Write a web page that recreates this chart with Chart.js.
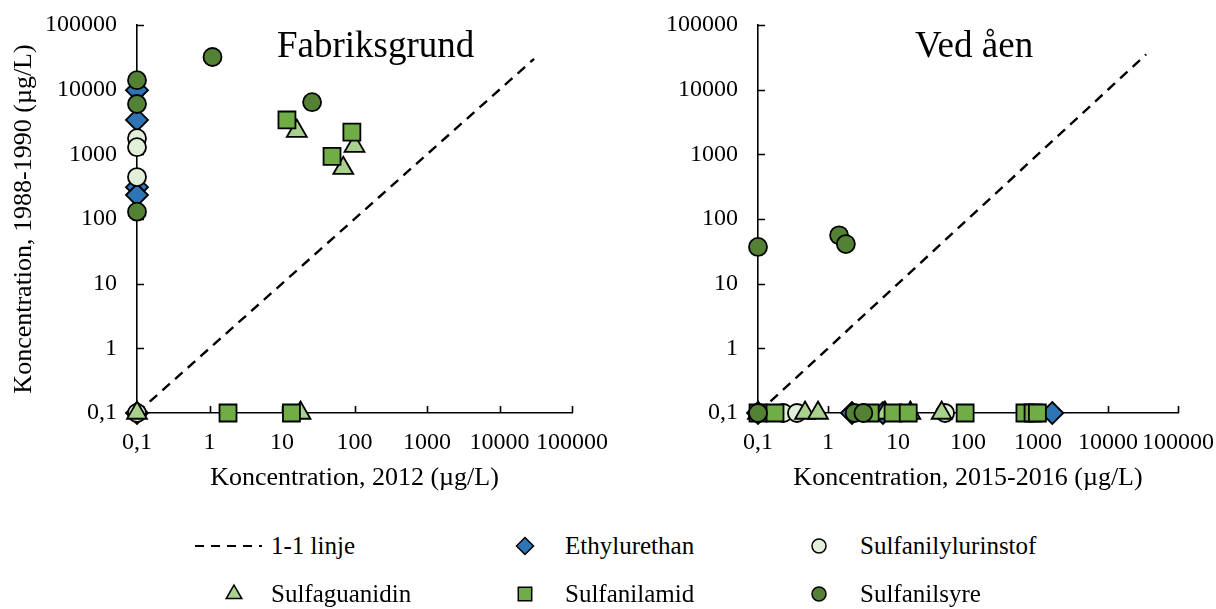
<!DOCTYPE html>
<html>
<head>
<meta charset="utf-8">
<script src="https://cdn.jsdelivr.net/npm/chart.js@4/dist/chart.umd.min.js"></script>
<style>
  html, body { margin:0; padding:0; background:#fff; }
  body { width:1216px; height:609px; position:relative; overflow:hidden; font-family:"Liberation Serif","Times New Roman",serif; color:#000; }
  .box { position:absolute; top:0; width:608px; height:500px; }
  .ttl { position:absolute; font-size:37px; line-height:1; white-space:nowrap; }
  .lg { position:absolute; font-size:25px; line-height:1; white-space:nowrap; }
  .sym { position:absolute; }
</style>
</head>
<body>
<div class="box" style="left:0"><canvas id="c1" width="608" height="500"></canvas></div>
<div class="box" style="left:608px"><canvas id="c2" width="608" height="500"></canvas></div>
<div class="ttl" style="left:277px; top:26px;">Fabriksgrund</div>
<div class="ttl" style="left:915px; top:26px;">Ved åen</div>
<div id="legend"></div>
<script>
// ---- tick values / labels ----
const tickValues = [0.1, 1, 10, 100, 1000, 10000, 100000];
const tickLabels = ['0,1', '1', '10', '100', '1000', '10000', '100000'];

// ---- series names ----
const seriesNames = ['Ethylurethan', 'Sulfanilylurinstof', 'Sulfaguanidin', 'Sulfanilamid', 'Sulfanilsyre'];
const lineName = '1-1 linje';

// ---- Fabriksgrund: [x = 2012, y = 1988-1990] ----
const fabEthylurethan = [[0.1, 9800], [0.1, 3400], [0.1, 310], [0.1, 235], [0.1, 0.1]];
const fabSulfanilylurinstof = [[0.1, 1780], [0.1, 1290], [0.1, 445], [0.1, 0.1]];
const fabSulfaguanidin = [[16, 2290], [100, 1340], [70, 610], [0.1, 0.1], [18, 0.1]];
const fabSulfanilamid = [[11.7, 3400], [92, 2200], [49, 930], [1.8, 0.1], [13.5, 0.1]];
const fabSulfanilsyre = [[0.1, 14000], [0.1, 6000], [0.1, 130], [1.1, 32000], [26, 6400]];
const fabOneToOne = [[0.1, 0.1], [30000, 30000]];

// ---- Ved åen: [x = 2015-2016, y = 1988-1990] ----
const vedEthylurethan = [[0.1, 0.1], [2.2, 0.1], [6.1, 0.1], [1600, 0.1]];
const vedSulfanilylurinstof = [[0.1, 0.1], [0.23, 0.1], [0.36, 0.1], [47, 0.1]];
const vedSulfaguanidin = [[0.1, 0.1], [0.47, 0.1], [0.72, 0.1], [6.5, 0.1], [15, 0.1], [42, 0.1]];
const vedSulfanilamid = [[0.1, 0.1], [0.175, 0.1], [4, 0.1], [8.5, 0.1], [14, 0.1], [91, 0.1], [650, 0.1], [850, 0.1], [980, 0.1]];
const vedSulfanilsyre = [[0.1, 37], [1.44, 56], [1.8, 41], [0.1, 0.1], [2.4, 0.1], [3.2, 0.1]];
const vedOneToOne = [[0.1, 0.1], [35000, 35000]];

// ---- styles ----
const seriesColors = ['#2E75B6', '#E2F0D9', '#A9D18E', '#70AD47', '#548235'];
const seriesStyles = ['rectRot', 'circle', 'triangle', 'rect', 'circle'];
const seriesRadius = [11, 9, 11.5, 12, 9];
const FONT = '"Liberation Serif", "Times New Roman", serif';

function toPts(arr) { return arr.map(p => ({ x: p[0], y: p[1] })); }

function buildDatasets(seriesData, lineData) {
  const ds = seriesData.map((arr, i) => ({
    label: seriesNames[i],
    data: toPts(arr),
    pointStyle: seriesStyles[i],
    pointRadius: seriesRadius[i],
    pointHoverRadius: seriesRadius[i],
    backgroundColor: seriesColors[i],
    borderColor: '#000',
    pointBorderWidth: 1.8,
    borderWidth: 1.8,
    showLine: false,
    clip: false,
    order: 10 - i
  }));
  ds.push({
    label: lineName,
    data: toPts(lineData),
    showLine: true,
    borderColor: '#000',
    borderWidth: 2.4,
    borderDash: [10, 7],
    pointRadius: 0,
    clip: false,
    order: 20
  });
  return ds;
}

function setTicks(scale) {
  scale.ticks = tickValues.map(v => ({ value: v }));
}

// inner tick marks drawn at the scales' own pixel positions
const innerTicks = {
  id: 'innerTicks',
  beforeDatasetsDraw(chart) {
    const ctx = chart.ctx, xs = chart.scales.x, ys = chart.scales.y, a = chart.chartArea;
    const len = 7;
    ctx.save();
    ctx.strokeStyle = '#000';
    ctx.lineWidth = 1.6;
    ctx.beginPath();
    tickValues.forEach(v => {
      const px = Math.round(xs.getPixelForValue(v)) + 0.5;
      ctx.moveTo(px, a.bottom); ctx.lineTo(px, a.bottom - len);
      const py = Math.round(ys.getPixelForValue(v)) + 0.5;
      ctx.moveTo(a.left, py); ctx.lineTo(a.left + len, py);
    });
    ctx.stroke();
    ctx.restore();
  }
};

function makeOptions(yWidth, rightPad, xTitle, yTitle) {
  return {
    responsive: false,
    animation: false,
    events: [],
    layout: { padding: { left: 0, top: 25, right: rightPad, bottom: 0 } },
    plugins: { legend: { display: false }, tooltip: { enabled: false } },
    scales: {
      x: {
        type: 'logarithmic',
        min: 0.1, max: 100000,
        afterBuildTicks: setTicks,
        afterFit: s => { s.height = 87; s.paddingLeft = 0; s.paddingRight = 0; },
        border: { display: true, color: '#000', width: 1.6 },
        grid: { display: false, drawOnChartArea: false, drawTicks: false },
        ticks: {
          autoSkip: false, maxRotation: 0, color: '#000', padding: 15,
          font: { family: FONT, size: 24 },
          callback: (v, i) => tickLabels[i]
        },
        title: { display: true, text: xTitle, color: '#000', font: { family: FONT, size: 26 }, padding: { top: 4, bottom: 6 } }
      },
      y: {
        type: 'logarithmic',
        min: 0.1, max: 100000,
        afterBuildTicks: setTicks,
        afterFit: s => { s.width = yWidth; s.paddingTop = 0; s.paddingBottom = 0; },
        border: { display: true, color: '#000', width: 1.6 },
        grid: { display: false, drawOnChartArea: false, drawTicks: false },
        ticks: {
          autoSkip: false, color: '#000', padding: 20,
          font: { family: FONT, size: 24 },
          callback: (v, i) => tickLabels[i]
        },
        title: { display: !!yTitle, text: yTitle || '', color: '#000', font: { family: FONT, size: 26 }, padding: { top: 9, bottom: 0 } }
      }
    }
  };
}

new Chart(document.getElementById('c1'), {
  type: 'scatter',
  data: { datasets: buildDatasets([fabEthylurethan, fabSulfanilylurinstof, fabSulfaguanidin, fabSulfanilamid, fabSulfanilsyre], fabOneToOne) },
  options: makeOptions(137, 36, 'Koncentration, 2012 (\u00b5g/L)', 'Koncentration, 1988-1990 (\u00b5g/L)'),
  plugins: [innerTicks]
});

new Chart(document.getElementById('c2'), {
  type: 'scatter',
  data: { datasets: buildDatasets([vedEthylurethan, vedSulfanilylurinstof, vedSulfaguanidin, vedSulfanilamid, vedSulfanilsyre], vedOneToOne) },
  options: makeOptions(150, 38, 'Koncentration, 2015-2016 (\u00b5g/L)', null),
  plugins: [innerTicks]
});

// ---- shared legend (HTML text, symbols drawn with Chart.helpers.drawPoint) ----
const legendItems = [
  { name: lineName, kind: 'line', sx: 228, tx: 271, y: 546 },
  { name: seriesNames[0], idx: 0, sx: 525, tx: 565, y: 546 },
  { name: seriesNames[1], idx: 1, sx: 819, tx: 860, y: 546 },
  { name: seriesNames[2], idx: 2, sx: 234, tx: 271, y: 594 },
  { name: seriesNames[3], idx: 3, sx: 525, tx: 565, y: 594 },
  { name: seriesNames[4], idx: 4, sx: 819, tx: 860, y: 594 }
];
const legendRadius = [8.5, 7, 9, 9.5, 7];
const lg = document.getElementById('legend');
legendItems.forEach(it => {
  const cv = document.createElement('canvas');
  const w = 80, h = 30;
  cv.width = w; cv.height = h;
  cv.className = 'sym';
  cv.style.left = (it.sx - w / 2) + 'px';
  cv.style.top = (it.y - h / 2) + 'px';
  const ctx = cv.getContext('2d');
  if (it.kind === 'line') {
    ctx.strokeStyle = '#000'; ctx.lineWidth = 2.2; ctx.setLineDash([9, 7]);
    ctx.beginPath(); ctx.moveTo(w / 2 - 33, h / 2); ctx.lineTo(w / 2 + 34, h / 2); ctx.stroke();
  } else {
    ctx.fillStyle = seriesColors[it.idx]; ctx.strokeStyle = '#000'; ctx.lineWidth = 1.5;
    Chart.helpers.drawPoint(ctx, { pointStyle: seriesStyles[it.idx], radius: legendRadius[it.idx], rotation: 0, borderWidth: 1.5 }, w / 2, h / 2);
  }
  lg.appendChild(cv);
  const t = document.createElement('div');
  t.className = 'lg';
  t.textContent = it.name;
  t.style.left = it.tx + 'px';
  t.style.top = (it.y - 13) + 'px';
  lg.appendChild(t);
});
</script>
</body>
</html>
